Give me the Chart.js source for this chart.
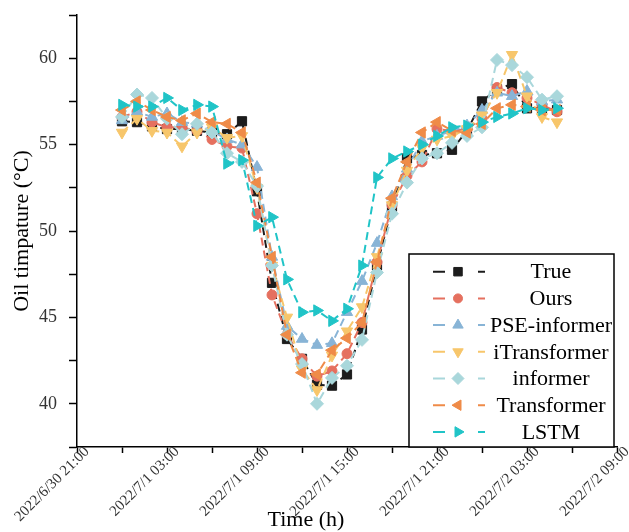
<!DOCTYPE html>
<html lang="en">
<head>
  <meta charset="utf-8">
  <title>Oil temperature forecast</title>
  <style>
    html, body { margin: 0; padding: 0; background: #fff; }
    #chartContainer { width: 629px; height: 532px; }
  </style>
  <script src="https://cdn.jsdelivr.net/npm/chart.js"></script>
</head>
<body>
  <div id="chartContainer">
    <canvas id="oilChart" width="629" height="532"></canvas>
  </div>
  <script>
    // hours after 2022/6/30 21:00, one reading per hour
    const hours = [3, 4, 5, 6, 7, 8, 9, 10, 11, 12, 13, 14, 15, 16, 17,
                   18, 19, 20, 21, 22, 23, 24, 25, 26, 27, 28, 29, 30, 31, 32];

    const trueTemp = [56.35, 56.3, 56.05, 55.9, 55.9, 55.8, 55.7, 55.6, 56.35, 52.3,
                      47.0, 43.75, 42.6, 41.1, 41.05, 41.7, 44.3, 48.0, 51.4, 54.2,
                      54.4, 54.5, 54.7, 55.8, 57.5, 58.2, 58.5, 57.1, 57.1, 57.0];
    const ours = [56.6, 56.9, 56.3, 56.0, 56.0, 55.8, 55.3, 54.9, 54.8, 51.0,
                  46.3, 44.0, 42.6, 41.6, 41.9, 42.9, 44.7, 48.2, 51.5, 53.2,
                  54.0, 55.9, 55.8, 55.9, 56.5, 58.3, 58.0, 57.7, 57.3, 56.9];
    const pseInformer = [56.4, 56.9, 56.6, 56.8, 56.3, 56.2, 55.8, 55.3, 55.0, 53.7,
                         48.5, 44.5, 43.75, 43.4, 43.5, 45.3, 47.1, 49.3, 52.0, 53.6,
                         55.2, 55.5, 55.8, 56.1, 57.0, 58.0, 57.8, 58.1, 57.5, 57.6];
    const iTransformer = [55.7, 56.5, 55.8, 55.7, 54.9, 55.7, 56.0, 55.4, 55.5, 52.5,
                          48.0, 45.0, 42.0, 40.8, 42.8, 44.2, 45.6, 48.5, 51.5, 53.5,
                          54.8, 55.3, 55.5, 55.9, 56.7, 58.0, 60.2, 57.8, 56.6, 56.3];
    const informer = [56.6, 57.9, 57.7, 56.5, 55.6, 56.2, 55.7, 54.5, 54.0, 52.6,
                      48.0, 44.0, 42.3, 40.0, 41.5, 42.2, 43.7, 47.6, 51.0, 52.8,
                      54.2, 54.5, 55.1, 55.5, 56.0, 59.9, 59.6, 58.9, 57.6, 57.8];
    const transformer = [57.0, 57.5, 57.0, 56.6, 56.4, 56.8, 56.3, 56.2, 55.7, 52.8,
                         48.5, 44.0, 41.8, 41.7, 43.1, 43.8, 44.7, 48.2, 51.9, 54.0,
                         55.7, 56.3, 55.8, 55.7, 56.2, 57.1, 57.3, 57.2, 57.0, 57.0];
    const lstm = [57.3, 57.2, 57.2, 57.7, 57.0, 57.3, 57.2, 53.9, 54.1, 50.3,
                  50.8, 47.2, 45.3, 45.4, 44.8, 45.5, 48.0, 53.1, 54.2, 54.6,
                  55.0, 55.5, 56.0, 56.1, 56.3, 56.6, 56.8, 57.1, 57.0, 57.1];

    const xTickLabels = ['2022/6/30 21:00', '2022/7/1 03:00', '2022/7/1 09:00', '2022/7/1 15:00',
                         '2022/7/1 21:00', '2022/7/2 03:00', '2022/7/2 09:00'];
    const yTickLabels = [40, 45, 50, 55, 60];

    const serif = '"Liberation Serif", "Times New Roman", serif';

    const series = [
      { label: 'True',         values: trueTemp,     color: '#1c1c1c', style: 'rect',     rot: 0,   r: 6.5 },
      { label: 'Ours',         values: ours,         color: '#e5705f', style: 'circle',   rot: 0,   r: 5 },
      { label: 'PSE-informer', values: pseInformer,  color: '#88b4d6', style: 'triangle', rot: 0,   r: 6.5 },
      { label: 'iTransformer', values: iTransformer, color: '#f7c66b', style: 'triangle', rot: 180, r: 6.5 },
      { label: 'informer',     values: informer,     color: '#a9d7db', style: 'rectRot',  rot: 0,   r: 6.5 },
      { label: 'Transformer',  values: transformer,  color: '#ef8b48', style: 'triangle', rot: -90, r: 6.5 },
      { label: 'LSTM',         values: lstm,         color: '#20c4c7', style: 'triangle', rot: 90,  r: 6.5 }
    ];

    const datasets = series.map((s, i) => ({
      label: s.label,
      data: hours.map((h, k) => ({ x: h, y: s.values[k] })),
      borderColor: s.color,
      backgroundColor: s.color,
      borderWidth: 2,
      borderDash: [8, 5],
      pointStyle: s.style,
      pointRotation: s.rot,
      pointRadius: s.r,
      pointBorderWidth: 1,
      pointBorderColor: s.color,
      pointBackgroundColor: s.color,
      tension: 0,
      order: series.length - 1 - i
    }));

    // same shapes as the chart's point styles, for the legend samples
    function drawMarker(ctx, style, rot, r, x, y) {
      ctx.save();
      ctx.translate(x, y);
      ctx.rotate(rot * Math.PI / 180);
      ctx.beginPath();
      if (style === 'circle') {
        ctx.arc(0, 0, r, 0, Math.PI * 2);
      } else if (style === 'rect') {
        const s = r * Math.SQRT1_2;
        ctx.rect(-s, -s, 2 * s, 2 * s);
      } else if (style === 'rectRot') {
        ctx.moveTo(0, -r); ctx.lineTo(r, 0); ctx.lineTo(0, r); ctx.lineTo(-r, 0);
        ctx.closePath();
      } else {
        for (let k = 0; k < 3; k++) {
          const a = k * 2 * Math.PI / 3;
          const px = Math.sin(a) * r, py = -Math.cos(a) * r;
          if (k === 0) ctx.moveTo(px, py); else ctx.lineTo(px, py);
        }
        ctx.closePath();
      }
      ctx.fill();
      ctx.stroke();
      ctx.restore();
    }

    // boxed legend in the lower right corner of the plot
    const boxedLegend = {
      id: 'boxedLegend',
      afterDatasetsDraw(chart) {
        const { ctx, chartArea } = chart;
        const w = 205, h = 193;
        const x0 = chartArea.right - 208;
        const y0 = chartArea.bottom - h;
        ctx.save();
        ctx.fillStyle = '#fff';
        ctx.fillRect(x0, y0, w, h);
        ctx.lineWidth = 1.5;
        ctx.strokeStyle = '#000';
        ctx.strokeRect(x0, y0, w, h);
        ctx.font = '22px ' + serif;
        ctx.textAlign = 'center';
        ctx.textBaseline = 'middle';
        chart.data.datasets.forEach((ds, i) => {
          const y = y0 + 17.7 + i * 26.7;
          ctx.strokeStyle = ds.borderColor;
          ctx.fillStyle = ds.borderColor;
          ctx.lineWidth = 2;
          ctx.beginPath();
          ctx.moveTo(x0 + 24, y); ctx.lineTo(x0 + 36, y);
          ctx.moveTo(x0 + 69, y); ctx.lineTo(x0 + 76, y);
          ctx.stroke();
          ctx.lineWidth = 1;
          drawMarker(ctx, ds.pointStyle, ds.pointRotation, ds.pointRadius - 0.5, x0 + 49, y);
          ctx.fillStyle = '#000';
          ctx.fillText(ds.label, x0 + 142, y + 1);
        });
        ctx.restore();
      }
    };

    // x axis title sits a little left of the axis centre
    const timeTitle = {
      id: 'timeTitle',
      afterDraw(chart) {
        const { ctx, chartArea } = chart;
        ctx.save();
        ctx.font = '22px ' + serif;
        ctx.fillStyle = '#000';
        ctx.textAlign = 'center';
        ctx.textBaseline = 'middle';
        ctx.fillText('Time (h)', chartArea.left + 229, 520);
        ctx.restore();
      }
    };

    const ctx = document.getElementById('oilChart').getContext('2d');
    new Chart(ctx, {
      type: 'line',
      data: { datasets: datasets },
      plugins: [boxedLegend, timeTitle],
      options: {
        responsive: false,
        animation: false,
        layout: { padding: { top: 15, right: 12, bottom: 0, left: 0 } },
        plugins: {
          legend: { display: false },
          tooltip: { enabled: false }
        },
        scales: {
          x: {
            type: 'linear',
            min: 0,
            max: 36,
            afterFit(scale) {
              scale.height = 85;
              scale.paddingLeft = 0;
              scale.paddingRight = 0;
            },
            border: { color: '#000', width: 1.5 },
            grid: { drawOnChartArea: false, tickLength: 6, tickColor: '#000', tickWidth: 1.5 },
            ticks: {
              stepSize: 3,
              autoSkip: false,
              minRotation: 45,
              maxRotation: 45,
              padding: -10,
              labelOffset: 10,
              color: '#333',
              font: { family: serif, size: 15 },
              callback: (v) => (v % 6 === 0 ? xTickLabels[v / 6] : '')
            }
          },
          y: {
            min: 37.5,
            max: 62.5,
            afterFit(scale) {
              scale.width = 77;
              scale.paddingTop = 0;
              scale.paddingBottom = 0;
            },
            border: { color: '#000', width: 1.5 },
            grid: { drawOnChartArea: false, tickLength: 8, tickColor: '#000', tickWidth: 1.5 },
            title: {
              display: true,
              text: 'Oil timpature (°C)',
              color: '#000',
              font: { family: serif, size: 22 },
              padding: { top: 9, bottom: 0 }
            },
            ticks: {
              stepSize: 2.5,
              padding: 12,
              color: '#333',
              font: { family: serif, size: 18 },
              callback: (v) => (yTickLabels.includes(v) ? v : '')
            }
          }
        }
      }
    });
  </script>
</body>
</html>
